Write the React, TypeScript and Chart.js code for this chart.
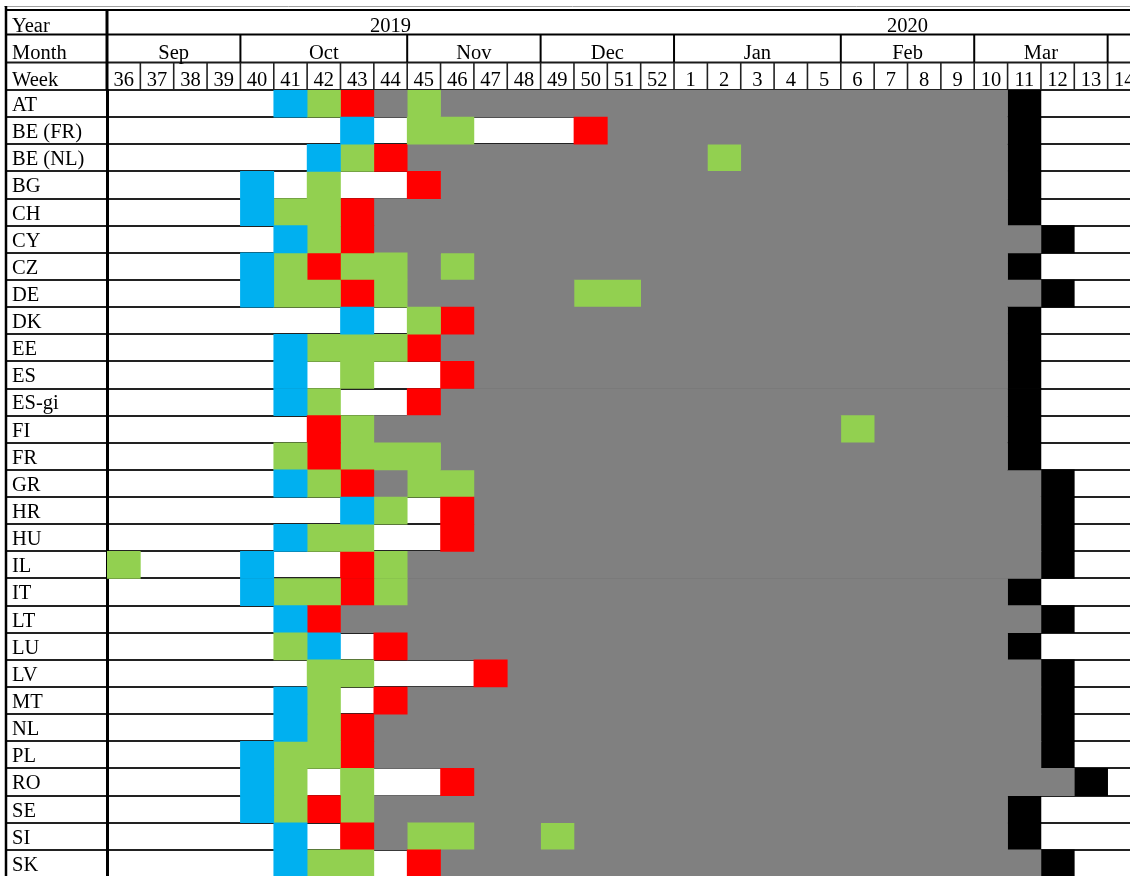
import React, { useEffect, useRef } from 'react';
import { Chart, registerables } from 'chart.js';

Chart.register(...registerables);

// ---- data ----
const countries = [
  'AT', 'BE (FR)', 'BE (NL)', 'BG', 'CH', 'CY', 'CZ', 'DE', 'DK', 'EE', 'ES', 'ES-gi', 'FI', 'FR',
  'GR', 'HR', 'HU', 'IL', 'IT', 'LT', 'LU', 'LV', 'MT', 'NL', 'PL', 'RO', 'SE', 'SI', 'SK',
];

const weekLabels = [
  '36', '37', '38', '39', '40', '41', '42', '43', '44', '45', '46', '47', '48', '49', '50', '51', '52',
  '1', '2', '3', '4', '5', '6', '7', '8', '9', '10', '11', '12', '13', '14',
];

const monthLabels = ['Sep', 'Oct', 'Nov', 'Dec', 'Jan', 'Feb', 'Mar', ''];
const monthStarts = [0, 4, 9, 13, 17, 22, 26, 30];

const yearLabels = ['2019', '2020'];
const yearStarts = [0, 17];

// B = blue, G = green, R = red, X = grey, K = black ; [startColumn, endColumn, status]
const segments: [number, number, string][][] = [
  [[5, 6, 'B'], [6, 7, 'G'], [7, 8, 'R'], [8, 9, 'X'], [9, 10, 'G'], [10, 27, 'X'], [27, 28, 'K']], // AT
  [[7, 8, 'B'], [9, 11, 'G'], [14, 15, 'R'], [15, 27, 'X'], [27, 28, 'K']], // BE (FR)
  [[6, 7, 'B'], [7, 8, 'G'], [8, 9, 'R'], [9, 18, 'X'], [18, 19, 'G'], [19, 27, 'X'], [27, 28, 'K']], // BE (NL)
  [[4, 5, 'B'], [6, 7, 'G'], [9, 10, 'R'], [10, 27, 'X'], [27, 28, 'K']], // BG
  [[4, 5, 'B'], [5, 7, 'G'], [7, 8, 'R'], [8, 27, 'X'], [27, 28, 'K']], // CH
  [[5, 6, 'B'], [6, 7, 'G'], [7, 8, 'R'], [8, 28, 'X'], [28, 29, 'K']], // CY
  [[4, 5, 'B'], [5, 6, 'G'], [6, 7, 'R'], [7, 9, 'G'], [9, 10, 'X'], [10, 11, 'G'], [11, 27, 'X'], [27, 28, 'K']], // CZ
  [[4, 5, 'B'], [5, 7, 'G'], [7, 8, 'R'], [8, 9, 'G'], [9, 14, 'X'], [14, 16, 'G'], [16, 28, 'X'], [28, 29, 'K']], // DE
  [[7, 8, 'B'], [9, 10, 'G'], [10, 11, 'R'], [11, 27, 'X'], [27, 28, 'K']], // DK
  [[5, 6, 'B'], [6, 9, 'G'], [9, 10, 'R'], [10, 27, 'X'], [27, 28, 'K']], // EE
  [[5, 6, 'B'], [7, 8, 'G'], [10, 11, 'R'], [11, 27, 'X'], [27, 28, 'K']], // ES
  [[5, 6, 'B'], [6, 7, 'G'], [9, 10, 'R'], [10, 27, 'X'], [27, 28, 'K']], // ES-gi
  [[6, 7, 'R'], [7, 8, 'G'], [8, 22, 'X'], [22, 23, 'G'], [23, 27, 'X'], [27, 28, 'K']], // FI
  [[5, 6, 'G'], [6, 7, 'R'], [7, 10, 'G'], [10, 27, 'X'], [27, 28, 'K']], // FR
  [[5, 6, 'B'], [6, 7, 'G'], [7, 8, 'R'], [8, 9, 'X'], [9, 11, 'G'], [11, 28, 'X'], [28, 29, 'K']], // GR
  [[7, 8, 'B'], [8, 9, 'G'], [10, 11, 'R'], [11, 28, 'X'], [28, 29, 'K']], // HR
  [[5, 6, 'B'], [6, 8, 'G'], [10, 11, 'R'], [11, 28, 'X'], [28, 29, 'K']], // HU
  [[0, 1, 'G'], [4, 5, 'B'], [7, 8, 'R'], [8, 9, 'G'], [9, 28, 'X'], [28, 29, 'K']], // IL
  [[4, 5, 'B'], [5, 7, 'G'], [7, 8, 'R'], [8, 9, 'G'], [9, 27, 'X'], [27, 28, 'K']], // IT
  [[5, 6, 'B'], [6, 7, 'R'], [7, 28, 'X'], [28, 29, 'K']], // LT
  [[5, 6, 'G'], [6, 7, 'B'], [8, 9, 'R'], [9, 27, 'X'], [27, 28, 'K']], // LU
  [[6, 8, 'G'], [11, 12, 'R'], [12, 28, 'X'], [28, 29, 'K']], // LV
  [[5, 6, 'B'], [6, 7, 'G'], [8, 9, 'R'], [9, 28, 'X'], [28, 29, 'K']], // MT
  [[5, 6, 'B'], [6, 7, 'G'], [7, 8, 'R'], [8, 28, 'X'], [28, 29, 'K']], // NL
  [[4, 5, 'B'], [5, 7, 'G'], [7, 8, 'R'], [8, 28, 'X'], [28, 29, 'K']], // PL
  [[4, 5, 'B'], [5, 6, 'G'], [7, 8, 'G'], [10, 11, 'R'], [11, 29, 'X'], [29, 30, 'K']], // RO
  [[4, 5, 'B'], [5, 6, 'G'], [6, 7, 'R'], [7, 8, 'G'], [8, 27, 'X'], [27, 28, 'K']], // SE
  [[5, 6, 'B'], [7, 8, 'R'], [8, 9, 'X'], [9, 11, 'G'], [11, 13, 'X'], [13, 14, 'G'], [14, 27, 'X'], [27, 28, 'K']], // SI
  [[5, 6, 'B'], [6, 8, 'G'], [9, 10, 'R'], [10, 28, 'X'], [28, 29, 'K']], // SK
];

const statusColors: Record<string, string> = {
  B: '#00B0F0',
  G: '#92D050',
  R: '#FF0000',
  X: '#808080',
  K: '#000000',
};

const FONT = "'Liberation Serif', 'Times New Roman', serif";

const headerPlugin = {
  id: 'headerTable',
  afterDraw(chart: any) {
    const ctx: CanvasRenderingContext2D = chart.ctx;
    const xs = chart.scales.x;
    const ca = chart.chartArea;
    const W = chart.width;
    const H = chart.height;
    const px = (v: number) => xs.getPixelForValue(v);
    const line = (x1: number, y1: number, x2: number, y2: number, color: string, w: number) => {
      ctx.beginPath();
      ctx.strokeStyle = color;
      ctx.lineWidth = w;
      ctx.moveTo(x1, y1);
      ctx.lineTo(x2, y2);
      ctx.stroke();
    };
    ctx.save();
    // horizontal header rules
    line(4, 6.5, W, 6.5, '#a0a0a0', 1);
    line(5, 10, W, 10, '#000', 2);
    line(5, 34.5, W, 34.5, '#000', 2);
    line(5, 62.5, W, 62.5, '#1a1a1a', 2);
    // outer left border
    line(6, 6, 6, H, '#000', 2.5);
    // label column divider in header
    line(ca.left, 9, ca.left, ca.top, '#000', 3);
    // month dividers
    monthStarts.forEach((s) => {
      if (s === 0) return;
      line(px(s), 34.5, px(s), 62.5, '#000', 2);
    });
    // week dividers
    for (let i = 1; i <= weekLabels.length; i++) {
      line(px(i), 62.5, px(i), ca.top, '#222', 1.6);
    }
    // texts
    ctx.fillStyle = '#000';
    ctx.font = `20.5px ${FONT}`;
    ctx.textBaseline = 'alphabetic';
    ctx.textAlign = 'left';
    ctx.fillText('Year', 12, 31.5);
    ctx.fillText('Month', 12, 58.5);
    ctx.fillText('Week', 12, 85.5);
    ctx.textAlign = 'center';
    yearLabels.forEach((y, k) => {
      const s = yearStarts[k];
      const e = k + 1 < yearStarts.length ? yearStarts[k + 1] : weekLabels.length;
      ctx.fillText(y, (px(s) + px(e)) / 2, 31.5);
    });
    monthLabels.forEach((m, k) => {
      const s = monthStarts[k];
      const e = k + 1 < monthStarts.length ? monthStarts[k + 1] : weekLabels.length;
      ctx.fillText(m, (px(s) + px(e)) / 2, 58.5);
    });
    weekLabels.forEach((w, i) => {
      ctx.fillText(w, (px(i) + px(i + 1)) / 2, 85.5);
    });
    ctx.restore();
  },
};

export default function App() {
  const ref = useRef<HTMLCanvasElement | null>(null);

  useEffect(() => {
    if (!ref.current) return;
    const maxSeg = Math.max(...segments.map((s) => s.length));
    const datasets = [];
    for (let k = 0; k < maxSeg; k++) {
      datasets.push({
        label: `segment ${k + 1}`,
        data: segments.map((row) => (row[k] ? [row[k][0], row[k][1]] : null)),
        backgroundColor: segments.map((row) => (row[k] ? statusColors[row[k][2]] : 'rgba(0,0,0,0)')),
        borderWidth: 0,
        borderSkipped: false,
        grouped: false,
        barPercentage: 1,
        categoryPercentage: 1,
      });
    }
    const chart = new Chart(ref.current, {
      type: 'bar',
      data: { labels: countries, datasets: datasets as any },
      plugins: [headerPlugin],
      options: {
        indexAxis: 'y',
        animation: false,
        responsive: false,
        maintainAspectRatio: false,
        layout: { padding: { top: 90, left: 12, right: 0, bottom: 0 } },
        plugins: {
          legend: { display: false },
          tooltip: { enabled: false },
          title: { display: false },
        },
        scales: {
          x: {
            type: 'linear',
            min: 0,
            max: weekLabels.length,
            display: false,
          },
          y: {
            type: 'category',
            position: 'left',
            z: 1,
            offset: true,
            afterFit: (s: any) => {
              s.width = 95;
              s.paddingTop = 0;
              s.paddingBottom = 0;
            },
            grid: {
              display: true,
              offset: true,
              color: '#222',
              lineWidth: 2,
              drawTicks: true,
              tickLength: 101,
              tickColor: '#222',
              tickWidth: 2,
            },
            border: { display: true, color: '#000', width: 3 },
            ticks: {
              autoSkip: false,
              crossAlign: 'far',
              padding: 0,
              labelOffset: 2,
              color: '#000',
              font: { family: FONT, size: 20.5 },
            },
          },
        },
      } as any,
    });
    return () => chart.destroy();
  }, []);

  return (
    <div
      style={{
        position: 'absolute',
        left: 0,
        top: 0,
        width: 1130,
        height: 876,
        overflow: 'hidden',
        background: '#fff',
      }}
    >
      <canvas ref={ref} width={1141} height={877} style={{ display: 'block', width: 1141, height: 877 }} />
    </div>
  );
}
